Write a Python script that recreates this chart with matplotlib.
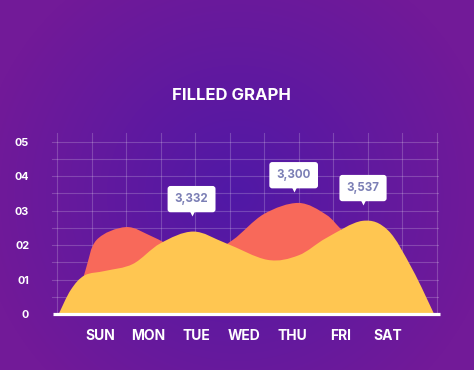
import numpy as np
import matplotlib
matplotlib.use("Agg")
import matplotlib.pyplot as plt
from matplotlib.path import Path
from matplotlib.patches import PathPatch
from matplotlib.transforms import offset_copy

# data (x in grid cells, y in chart units)
days = ["SUN", "MON", "TUE", "WED", "THU", "FRI", "SAT"]
y_labels = ["0", "01", "02", "03", "04", "05"]

yellow_x = [0.05, 0.40, 0.80, 1.40, 2.20, 3.00, 3.95, 4.90, 6.10, 7.00, 7.80, 8.85,
            9.60, 10.30, 10.93]
yellow_y = [0.0, 0.70, 1.12, 1.25, 1.45, 2.05, 2.39, 2.05, 1.57, 1.70, 2.20, 2.70,
            2.42, 1.30, 0.0]

red_x = [0.45, 0.82, 1.15, 2.00, 2.75, 3.50, 4.40, 5.10, 6.00, 7.00, 7.80, 8.30,
         9.20, 10.10, 10.80]
red_y = [0.0, 1.25, 2.15, 2.52, 2.25, 1.90, 1.80, 2.15, 2.90, 3.22, 2.88, 2.40,
         1.70, 0.90, 0.0]

callout_text = ["3,332", "3,300", "3,537"]

RED = "#f8695a"
YELLOW = "#ffc651"
TIP_TXT = "#7b7fb5"
FONT = ["Inter", "DejaVu Sans"]


def smooth_path(xs, ys):
    """Catmull-Rom through the points, as cubic Bezier, closed on the baseline."""
    p = np.column_stack([xs, ys])
    ext = np.vstack([p[0], p, p[-1]])
    verts = [tuple(p[0])]
    codes = [Path.MOVETO]
    for i in range(len(p) - 1):
        p0, p1, p2, p3 = ext[i], ext[i + 1], ext[i + 2], ext[i + 3]
        c1 = p1 + (p2 - p0) / 6.0
        c2 = p2 - (p3 - p1) / 6.0
        verts += [tuple(c1), tuple(c2), tuple(p2)]
        codes += [Path.CURVE4] * 3
    verts.append(tuple(p[0]))
    codes.append(Path.CLOSEPOLY)
    return Path(verts, codes)


fig = plt.figure(figsize=(4.74, 3.70), dpi=100)

# purple radial background
bg = fig.add_axes([0, 0, 1, 1], zorder=-10)
gx, gy = np.meshgrid(np.linspace(-1, 1, 474), np.linspace(-1, 1, 370))
r = np.clip(np.sqrt((gx / 1.1) ** 2 + ((gy - 0.05) / 1.4) ** 2), 0, 1)[..., None]
c_in = np.array([80, 24, 166]) / 255
c_out = np.array([114, 26, 152]) / 255
bg.imshow(c_in * (1 - r) + c_out * r, aspect="auto", interpolation="bilinear")
bg.axis("off")

ax = fig.add_axes([57 / 474, 56 / 370, 379.5 / 474, 181.1 / 370])
ax.set_facecolor("none")
ax.set_xlim(0, 11)
ax.set_ylim(0, 5.25)
for s in ax.spines.values():
    s.set_visible(False)

grid_kw = dict(color="white", alpha=0.2, lw=0.8, zorder=0, clip_on=False)
for gxv in range(12):
    ax.plot([gxv, gxv], [0, 5.25], **grid_kw)
for gyv in np.arange(0.5, 5.01, 0.5):
    ax.plot([-0.15, 11.05], [gyv, gyv], **grid_kw)

ax.add_patch(PathPatch(smooth_path(red_x, red_y), fc=RED, ec="none", zorder=2))
ax.add_patch(PathPatch(smooth_path(yellow_x, yellow_y), fc=YELLOW, ec="none", zorder=3))

ax.plot([-0.13, 11.1], [0.01, 0.01], color="white", lw=2.3, solid_capstyle="butt",
        zorder=4, clip_on=False)

ax.set_yticks(range(len(y_labels)), y_labels)
ax.set_xticks(np.linspace(1.25, 9.6, len(days)), days)
ax.tick_params(axis="y", length=0, pad=20, colors="white", labelsize=7.8)
ax.tick_params(axis="x", length=0, pad=11, colors="white", labelsize=10)
for lab in ax.get_yticklabels() + ax.get_xticklabels():
    lab.set_fontweight("bold")
    lab.set_family(FONT)

# callouts: tip x in grid cells, gap above curve in chart units
callout_x = [3.9, 6.86, 8.87]
callout_src = [(yellow_x, yellow_y), (red_x, red_y), (yellow_x, yellow_y)]
callout_gap = [0.48, 0.37, 0.48]
for txt, cx, (sx, sy), gap in zip(callout_text, callout_x, callout_src, callout_gap):
    cy = np.interp(cx, sx, sy) + gap
    tri = offset_copy(ax.transData, fig=fig, x=0, y=3, units="dots")
    ax.plot(cx, cy, marker="v", ms=5, color="white", mec="none", transform=tri,
            zorder=6, clip_on=False)
    ax.annotate(txt, xy=(cx, cy), xytext=(0, 16.5 * 72 / 100), textcoords="offset points",
                ha="center", va="center", color=TIP_TXT, fontsize=8.3, fontweight="bold",
                family=FONT, zorder=7, annotation_clip=False,
                bbox=dict(boxstyle="round,pad=0.62,rounding_size=0.25", fc="white", ec="none"))

fig.text(231 / 474, 1 - 96 / 370, "FILLED GRAPH", ha="center", va="center",
         color="white", fontsize=12, fontweight="bold", family=FONT)

fig.savefig("out.png", dpi=100)
